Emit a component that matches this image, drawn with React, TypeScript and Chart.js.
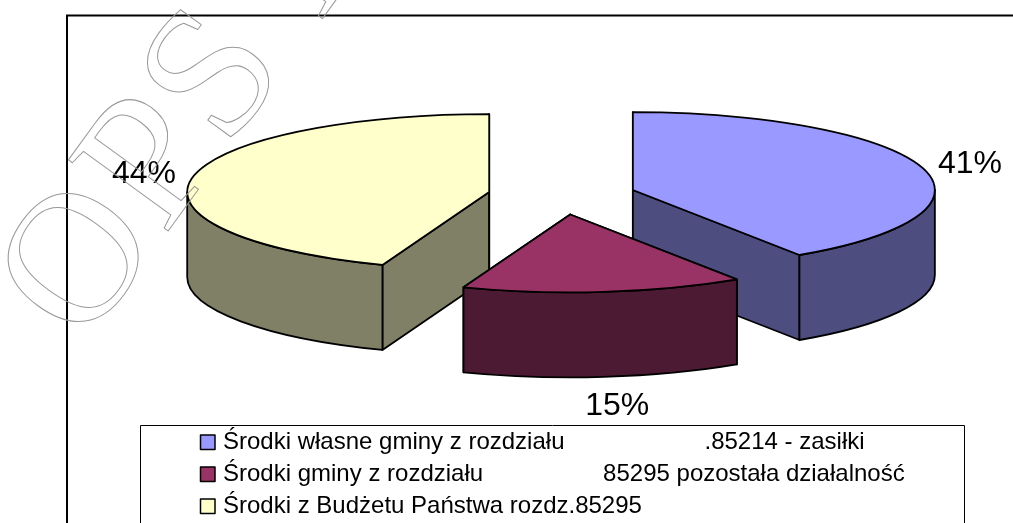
import React, { useEffect, useRef } from "react";
import { Chart, registerables } from "chart.js";

Chart.register(...registerables);

const categories = [
  "Środki własne gminy z rozdziału                     .85214 - zasiłki",
  "Środki gminy z rozdziału                  85295 pozostała działalność",
  "Środki z Budżetu Państwa rozdz.85295",
];
const values = [40.7, 15.05, 44.25];
const topColors = ["#9999FF", "#993366", "#FFFFCC"];
const sideColors = ["#4D4D80", "#4D1A33", "#808066"];
const watermarkText = "OPS K";

const W = 1013;
const H = 523;
const TILT = 0.258;
const DEPTH = 85;
const EXPLODE = 74;
const RADIUS = 302;
const LABEL_RADIUS = 350;
const labelNudge = [[2, 0], [8, 17], [-1, -2]];
const drawOrder = [0, 2, 1];
const FONT = '"Liberation Sans", Arial, sans-serif';

const pie3d = {
  id: "pie3d",
  beforeDraw(chart: any) {
    const { ctx } = chart;
    ctx.save();
    ctx.fillStyle = "#fff";
    ctx.fillRect(0, 0, W, H);
    ctx.strokeStyle = "#000";
    ctx.lineWidth = 2;
    ctx.beginPath();
    ctx.moveTo(W + 2, 15.5);
    ctx.lineTo(67, 15.5);
    ctx.lineTo(67, H + 2);
    ctx.stroke();
    ctx.restore();
  },
  beforeDatasetsDraw(chart: any) {
    const { ctx } = chart;
    const arcs = chart.getDatasetMeta(0).data;
    const cy = (chart.chartArea.top + chart.chartArea.bottom) / 2;
    const total = values.reduce((a, b) => a + b, 0);

    ctx.save();
    ctx.lineJoin = "round";
    ctx.strokeStyle = "#000";
    ctx.lineWidth = 1.8;

    for (const i of drawOrder) {
      const el = arcs[i];
      const { x, startAngle: a0, endAngle: a1, outerRadius: r } = el.getProps(
        ["x", "startAngle", "endAngle", "outerRadius"],
        true
      );
      const mid = (a0 + a1) / 2;
      const sx = x + Math.cos(mid) * EXPLODE;
      const sy = cy + Math.sin(mid) * EXPLODE * TILT;
      const ex = (a: number) => sx + Math.cos(a) * r;
      const ey = (a: number) => sy + Math.sin(a) * r * TILT;

      const quad = (a: number) => {
        ctx.beginPath();
        ctx.moveTo(sx, sy);
        ctx.lineTo(ex(a), ey(a));
        ctx.lineTo(ex(a), ey(a) + DEPTH);
        ctx.lineTo(sx, sy + DEPTH);
        ctx.closePath();
        ctx.fillStyle = sideColors[i];
        ctx.fill();
        ctx.stroke();
      };
      quad(a0);
      quad(a1);

      // outer wall: the parts of the rim that face the viewer
      for (let k = -1; k <= 1; k++) {
        const lo = Math.max(a0, k * 2 * Math.PI);
        const hi = Math.min(a1, k * 2 * Math.PI + Math.PI);
        if (hi <= lo) continue;
        ctx.beginPath();
        ctx.ellipse(sx, sy, r, r * TILT, 0, lo, hi);
        ctx.lineTo(ex(hi), ey(hi) + DEPTH);
        ctx.ellipse(sx, sy + DEPTH, r, r * TILT, 0, hi, lo, true);
        ctx.closePath();
        ctx.fillStyle = sideColors[i];
        ctx.fill();
        ctx.stroke();
      }

      // top face: the library's own arc, tilted and pulled out from the centre
      ctx.save();
      ctx.translate(0, cy);
      ctx.scale(1, TILT);
      ctx.translate(Math.cos(mid) * EXPLODE, -cy + Math.sin(mid) * EXPLODE);
      el.draw(ctx);
      ctx.restore();

      ctx.beginPath();
      ctx.moveTo(sx, sy);
      ctx.ellipse(sx, sy, r, r * TILT, 0, a0, a1);
      ctx.closePath();
      ctx.stroke();
    }

    // percent labels
    ctx.fillStyle = "#000";
    ctx.font = `32px ${FONT}`;
    ctx.textAlign = "center";
    ctx.textBaseline = "middle";
    arcs.forEach((el: any, i: number) => {
      const { x, startAngle: a0, endAngle: a1 } = el.getProps(["x", "startAngle", "endAngle"], true);
      const mid = (a0 + a1) / 2;
      const sx = x + Math.cos(mid) * EXPLODE;
      const sy = cy + Math.sin(mid) * EXPLODE * TILT;
      const lx = sx + Math.cos(mid) * LABEL_RADIUS + labelNudge[i][0];
      const ly = sy + Math.sin(mid) * LABEL_RADIUS * TILT + (Math.sin(mid) > 0.5 ? DEPTH : 0) + labelNudge[i][1];
      ctx.fillText(`${Math.round((values[i] / total) * 100)}%`, lx, ly);
    });

    // legend
    ctx.fillStyle = "#fff";
    ctx.strokeStyle = "#000";
    ctx.lineWidth = 1;
    ctx.beginPath();
    ctx.rect(140.5, 425.5, 824, H);
    ctx.fill();
    ctx.stroke();
    ctx.font = `24px ${FONT}`;
    ctx.textAlign = "left";
    chart.data.labels.forEach((label: string, i: number) => {
      const y = 442 + i * 32;
      ctx.fillStyle = topColors[i];
      ctx.strokeStyle = "#000";
      ctx.lineWidth = 1.5;
      ctx.beginPath();
      ctx.rect(200.5, y - 7, 14.5, 14.5);
      ctx.fill();
      ctx.stroke();
      ctx.fillStyle = "#000";
      ctx.fillText(label, 223, y);
    });

    // watermark, an outline lying over everything
    ctx.translate(83, 348);
    ctx.rotate((-54 * Math.PI) / 180);
    ctx.font = '187px "Liberation Serif", serif';
    (ctx as any).letterSpacing = "3px";
    ctx.textBaseline = "alphabetic";
    ctx.strokeStyle = "#9a9a9a";
    ctx.lineWidth = 1;
    ctx.strokeText(watermarkText, 0, 0);
    (ctx as any).letterSpacing = "0px";
    ctx.restore();
    return false;
  },
};

export default function App() {
  const ref = useRef<HTMLCanvasElement>(null);
  useEffect(() => {
    const chart = new Chart(ref.current as HTMLCanvasElement, {
      type: "pie",
      data: {
        labels: categories,
        datasets: [
          {
            data: values,
            backgroundColor: topColors,
            borderWidth: 0,
            radius: RADIUS,
          },
        ],
      },
      options: {
        responsive: false,
        animation: false,
        layout: { padding: { left: 111, right: 0, top: 0, bottom: 132 } },
        plugins: { legend: { display: false }, tooltip: { enabled: false } },
      },
      plugins: [pie3d],
    } as any);
    return () => chart.destroy();
  }, []);
  return (
    <div style={{ position: "absolute", left: 0, top: 0, width: W, height: H, overflow: "hidden" }}>
      <canvas ref={ref} width={W} height={H} style={{ display: "block" }} />
    </div>
  );
}
